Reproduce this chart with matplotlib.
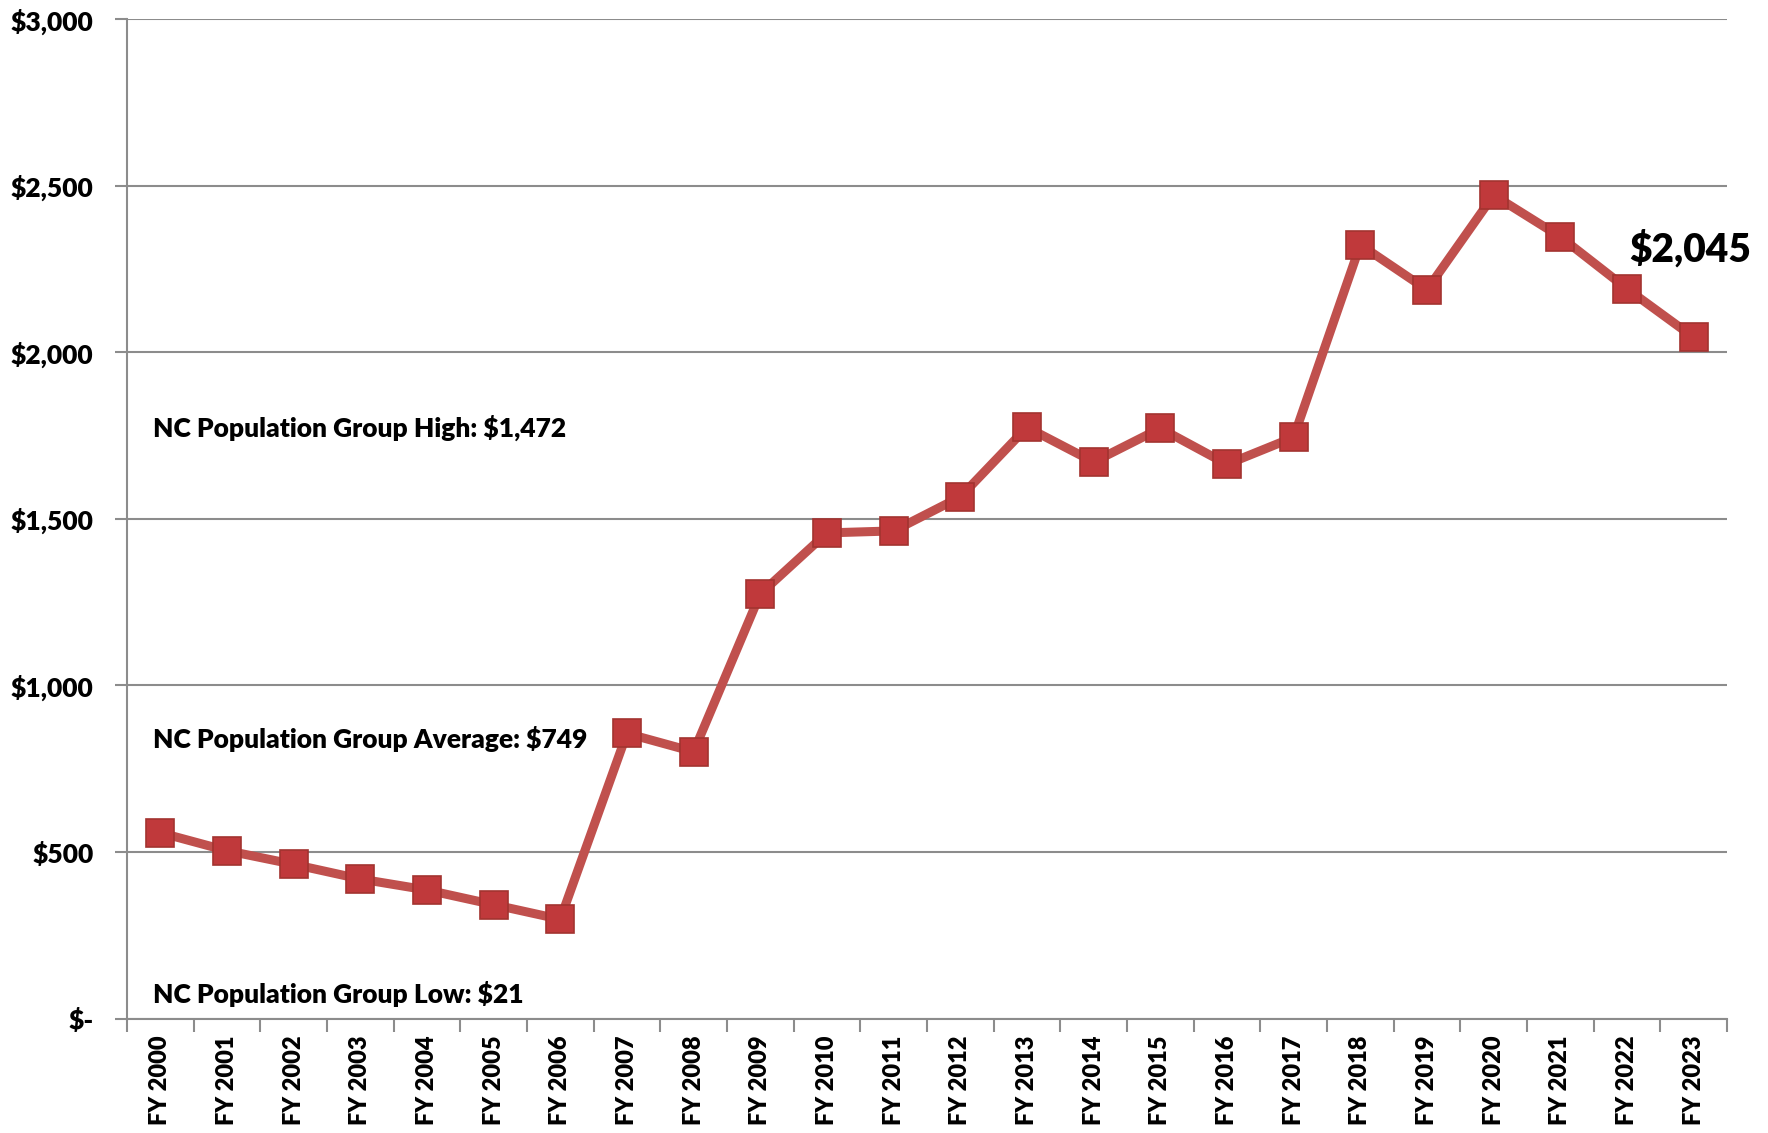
import numpy as np
import matplotlib.pyplot as plt
from matplotlib.ticker import FuncFormatter, FixedLocator

plt.rcParams['font.family'] = ['Lato', 'DejaVu Sans']
plt.rcParams['font.weight'] = 'heavy'

years = ["FY 2000", "FY 2001", "FY 2002", "FY 2003", "FY 2004", "FY 2005",
         "FY 2006", "FY 2007", "FY 2008", "FY 2009", "FY 2010", "FY 2011",
         "FY 2012", "FY 2013", "FY 2014", "FY 2015", "FY 2016", "FY 2017",
         "FY 2018", "FY 2019", "FY 2020", "FY 2021", "FY 2022", "FY 2023"]
values = [558, 504, 463, 419, 386, 342, 298, 856, 801, 1275, 1458, 1464,
          1566, 1775, 1671, 1772, 1664, 1745, 2323, 2188, 2472, 2347, 2191, 2045]

group_notes = ["NC Population Group High: $1,472",
               "NC Population Group Average: $749",
               "NC Population Group Low: $21"]
note_y = [1772, 839, 74]

fig = plt.figure(figsize=(17.68, 11.33), dpi=100)
ax = fig.add_axes([0.0718, 0.101, 0.905, 0.882])

x = np.arange(len(years))
ax.plot(x, values, color='#C0504D', lw=6.5, solid_joinstyle='round', zorder=3)
ax.plot(x, values, ls='none', marker='s', ms=19.5, mfc='#C0393B',
        mec='#A33330', mew=1.2, zorder=4)

ax.set_xlim(-0.5, len(years) - 0.5)
ax.set_ylim(0, 3000)
ax.set_yticks(np.arange(0, 3001, 500))
ax.yaxis.set_major_formatter(FuncFormatter(
    lambda v, p: "$-" if v == 0 else "${:,.0f}".format(v)))
ax.grid(axis='y', color='#8c8c8c', lw=1.5, zorder=0)

ax.set_xticks(x)
ax.set_xticklabels(years, rotation=90, fontsize=17, fontweight='heavy')
ax.xaxis.set_minor_locator(FixedLocator(np.arange(-0.5, len(years), 1)))
ax.tick_params(axis='x', which='major', length=0, pad=12)
ax.tick_params(axis='x', which='minor', length=9, width=1.5,
               color='#8c8c8c', direction='out')
ax.tick_params(axis='y', length=9, width=1.5, color='#8c8c8c',
               labelsize=19, pad=15)
for lab in ax.get_yticklabels():
    lab.set_fontweight('heavy')

for s in ['top', 'right']:
    ax.spines[s].set_visible(False)
for s in ['left', 'bottom']:
    ax.spines[s].set_color('#8c8c8c')
    ax.spines[s].set_linewidth(1.5)

for txt, yv in zip(group_notes, note_y):
    ax.text(0.016, yv, txt, transform=ax.get_yaxis_transform(),
            fontsize=19, fontweight='heavy', va='center', ha='left')

ax.annotate("${:,.0f}".format(values[-1]), xy=(x[-1], values[-1]),
            xytext=(x[-1] - 0.97, 2310), fontsize=28, fontweight='heavy',
            va='center', ha='left', annotation_clip=False)

fig.savefig("out.png", dpi=100)
